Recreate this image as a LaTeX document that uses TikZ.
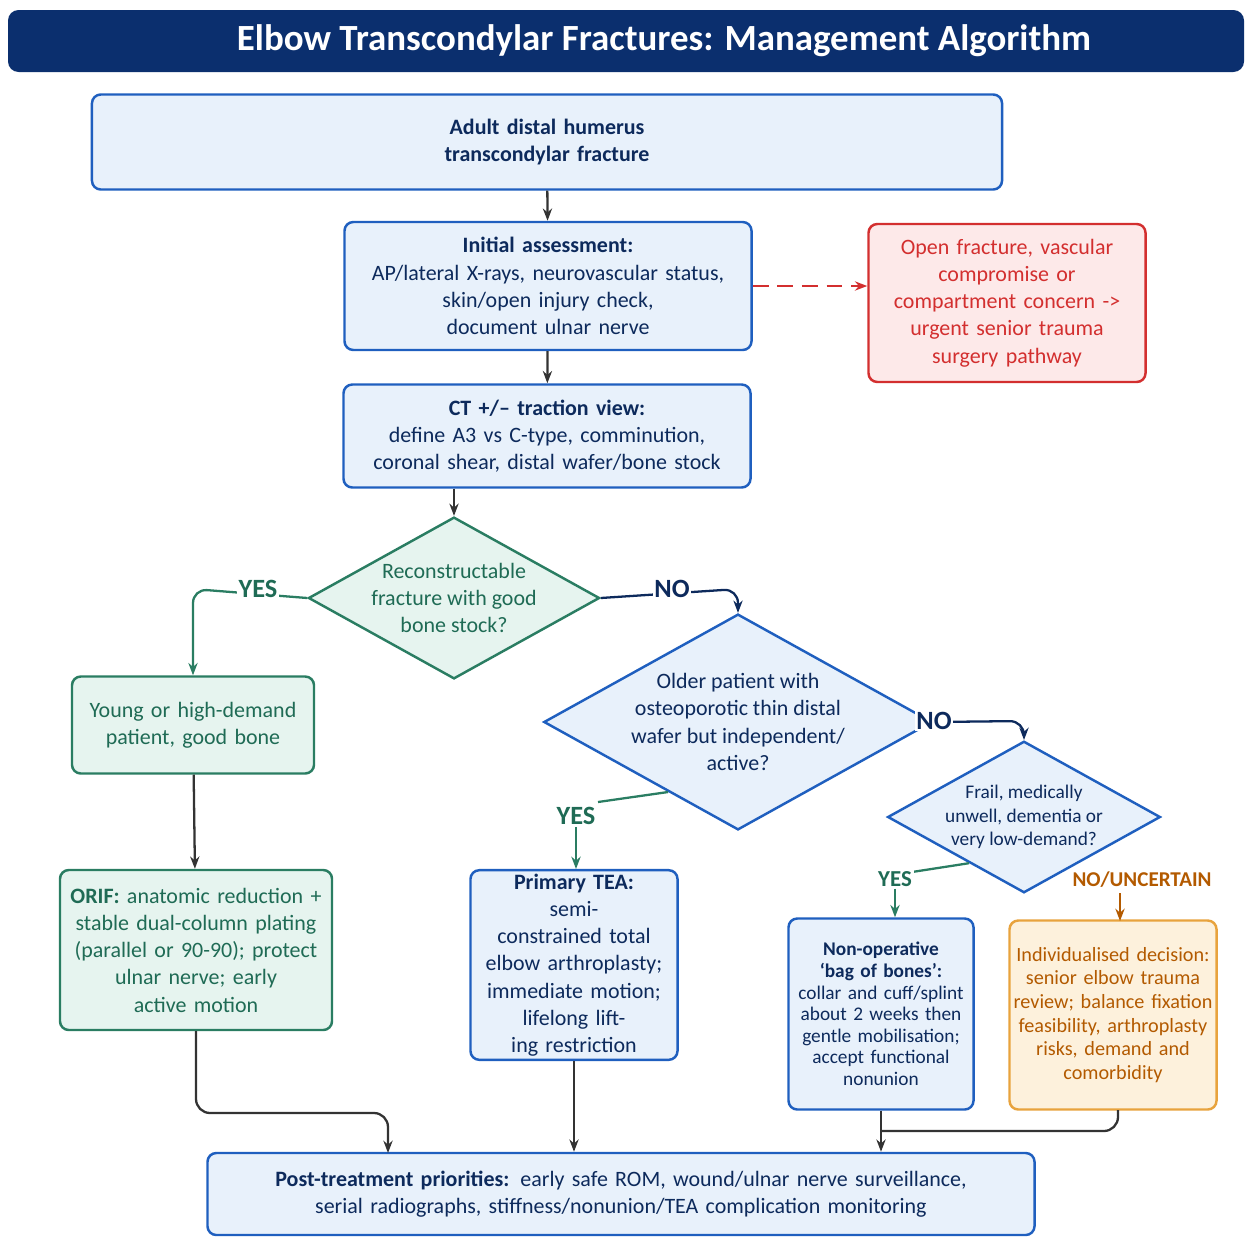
\documentclass[tikz,border=0pt]{standalone}
\usepackage{fontspec}
\setmainfont{Carlito}
\usetikzlibrary{shapes.geometric,arrows.meta}
\definecolor{navy}{HTML}{0B2F6E}
\definecolor{bline}{HTML}{1F5FBF}
\definecolor{bfill}{HTML}{E8F1FB}
\definecolor{btext}{HTML}{0D2A5C}
\definecolor{gline}{HTML}{2A7D62}
\definecolor{gfill}{HTML}{E6F4EF}
\definecolor{gtext}{HTML}{1F6B55}
\definecolor{rline}{HTML}{D32F2F}
\definecolor{rfill}{HTML}{FDE9E9}
\definecolor{oline}{HTML}{E8A33D}
\definecolor{ofill}{HTML}{FDF1DC}
\definecolor{otext}{HTML}{B35A00}
\tikzset{
  box/.style={draw=bline,fill=bfill,text=btext,line width=1.4pt,rounded corners=5pt,align=center,font=\fontsize{12.5}{15.5}\selectfont,inner sep=2pt},
  gbox/.style={box,draw=gline,fill=gfill,text=gtext},
  rbox/.style={box,draw=rline,fill=rfill,text=rline},
  obox/.style={box,draw=oline,fill=ofill,text=otext},
  dec/.style={diamond,aspect=1.8,draw=bline,fill=bfill,text=btext,line width=1.4pt,align=center,font=\fontsize{12.5}{15.5}\selectfont,inner sep=0pt},
  arr/.style={-{Stealth[length=7pt]},line width=1.3pt,draw=black!80},
  lbl/.style={font=\bfseries\fontsize{15}{18}\selectfont,fill=white,inner sep=1pt}
}
\begin{document}
\begin{tikzpicture}[x=0.02cm,y=-0.02cm]
\useasboundingbox (0,0) rectangle (1254,1254);
\fill[navy,rounded corners=6pt] (8,10) rectangle (1244,72);
\node[text=white,font=\bfseries\fontsize{21}{24}\selectfont] (title) at (664,41) {Elbow Transcondylar Fractures: Management Algorithm};
% boxes
\node[box,minimum width=370\pgflinewidth,text width=340*0.02cm,minimum height=95*0.02cm] (start) at (547,142) {\bfseries Adult distal humerus\\\bfseries transcondylar fracture};
\node[box,text width=400*0.02cm,minimum height=128*0.02cm] (assess) at (548,286) {\textbf{Initial assessment:}\\AP/lateral X-rays, neurovascular status,\\skin/open injury check,\\document ulnar nerve};
\node[rbox,text width=270*0.02cm,minimum height=158*0.02cm] (urgent) at (1007,303) {Open fracture, vascular\\compromise or\\compartment concern ->\\urgent senior trauma\\surgery pathway};
\node[box,text width=400*0.02cm,minimum height=103*0.02cm] (ct) at (547,436) {\textbf{CT +/-- traction view:}\\define A3 vs C-type, comminution,\\coronal shear, distal wafer/bone stock};
\node[dec,draw=gline,fill=gfill,text=gtext,minimum width=280*0.02cm,minimum height=155*0.02cm] (recon) at (454,598) {Reconstructable\\fracture with good\\bone stock?};
\node[gbox,text width=235*0.02cm,minimum height=97*0.02cm] (young) at (193,725) {Young or high-demand\\patient, good bone};
\node[dec,minimum width=292*0.02cm,minimum height=200*0.02cm] (older) at (738,722) {Older patient with\\osteoporotic thin distal\\wafer but independent/\\active?};
\node[dec,minimum width=238*0.02cm,minimum height=144*0.02cm,font=\fontsize{11}{13.5}\selectfont] (frail) at (1024,817) {Frail, medically\\unwell, dementia or\\very low-demand?};
\node[gbox,text width=265*0.02cm,minimum height=160*0.02cm] (orif) at (196,950) {\textbf{ORIF:} anatomic reduction +\\stable dual-column plating\\(parallel or 90-90); protect\\ulnar nerve; early active motion};
\node[box,text width=200*0.02cm,minimum height=176*0.02cm] (tea) at (574,965) {\textbf{Primary TEA:}\\semi-constrained total\\elbow arthroplasty;\\immediate motion;\\lifelong lifting restriction};
\node[box,text width=178*0.02cm,minimum height=191*0.02cm,font=\fontsize{11}{12.3}\selectfont] (nonop) at (881,1014) {\textbf{Non-operative}\\\textbf{`bag of bones':}\\collar and cuff/splint\\about 2 weeks then\\gentle mobilisation;\\accept functional\\nonunion};
\node[obox,text width=200*0.02cm,minimum height=189*0.02cm,font=\fontsize{11.5}{13.5}\selectfont] (indiv) at (1113,1015) {Individualised decision:\\senior elbow trauma\\review; balance fixation\\feasibility, arthroplasty\\risks, demand and\\comorbidity};
\node[box,text width=820*0.02cm,minimum height=82*0.02cm] (post) at (621,1194) {\textbf{Post-treatment priorities:} early safe ROM, wound/ulnar nerve surveillance,\\serial radiographs, stiffness/nonunion/TEA complication monitoring};
% connectors
\coordinate (yesc) at (193,589);
\coordinate (noc) at (738,589);
\coordinate (no2c) at (1024,721);
\draw[arr] (start) -- (assess);
\draw[arr] (assess) -- (ct);
\draw[arr,draw=rline,dashed,dash pattern=on 9pt off 5pt] (assess) -- (urgent.west|-assess);
\draw[arr] (ct.south-|recon) -- (recon);
\draw[arr,draw=gline,rounded corners=8pt] (recon.west) -- (yesc) -- (young);
\node[lbl,text=gtext] (yes1) at (258,589) {YES};
\draw[arr,draw=btext,rounded corners=8pt] (recon.east) -- (noc) -- (older.north);
\node[lbl,text=btext] (no1) at (672,589) {NO};
\draw[arr,draw=btext,rounded corners=8pt] (older.east) -- (no2c) -- (frail.north);
\node[lbl,text=btext] (no2) at (934,721) {NO};
\draw[line width=1.3pt,draw=gline] (older.225) -- (598,802);
\node[lbl,text=gtext] (yes2) at (576,816) {YES};
\draw[arr,draw=gline] (yes2.south) -- (tea.north-|yes2);
\draw[line width=1.3pt,draw=gline] (frail.220) -- (912,872);
\node[lbl,text=gtext,font=\bfseries\fontsize{13}{15}\selectfont] (yes3) at (895,879) {YES};
\draw[arr,draw=gline] (yes3.south) -- (nonop.north-|yes3);
\node[lbl,text=otext,font=\bfseries\fontsize{12}{14}\selectfont] (nou) at (1142,880) {NO/UNCERTAIN};
\draw[arr,draw=otext] (1120,893) -- (1120,921);
\draw[arr] (young) -- (orif);
\draw[arr,rounded corners=8pt] (orif.south) -- (196,1113) -- (388,1113) -- (388,1153);
\draw[arr] (tea) -- (tea.south|-post.north);
\draw[arr] (nonop) -- (nonop.south|-post.north);
\draw[line width=1.3pt,draw=black!80,rounded corners=8pt] (1118,1110) -- (1118,1131) -- (881,1131);
\end{tikzpicture}
\end{document}
